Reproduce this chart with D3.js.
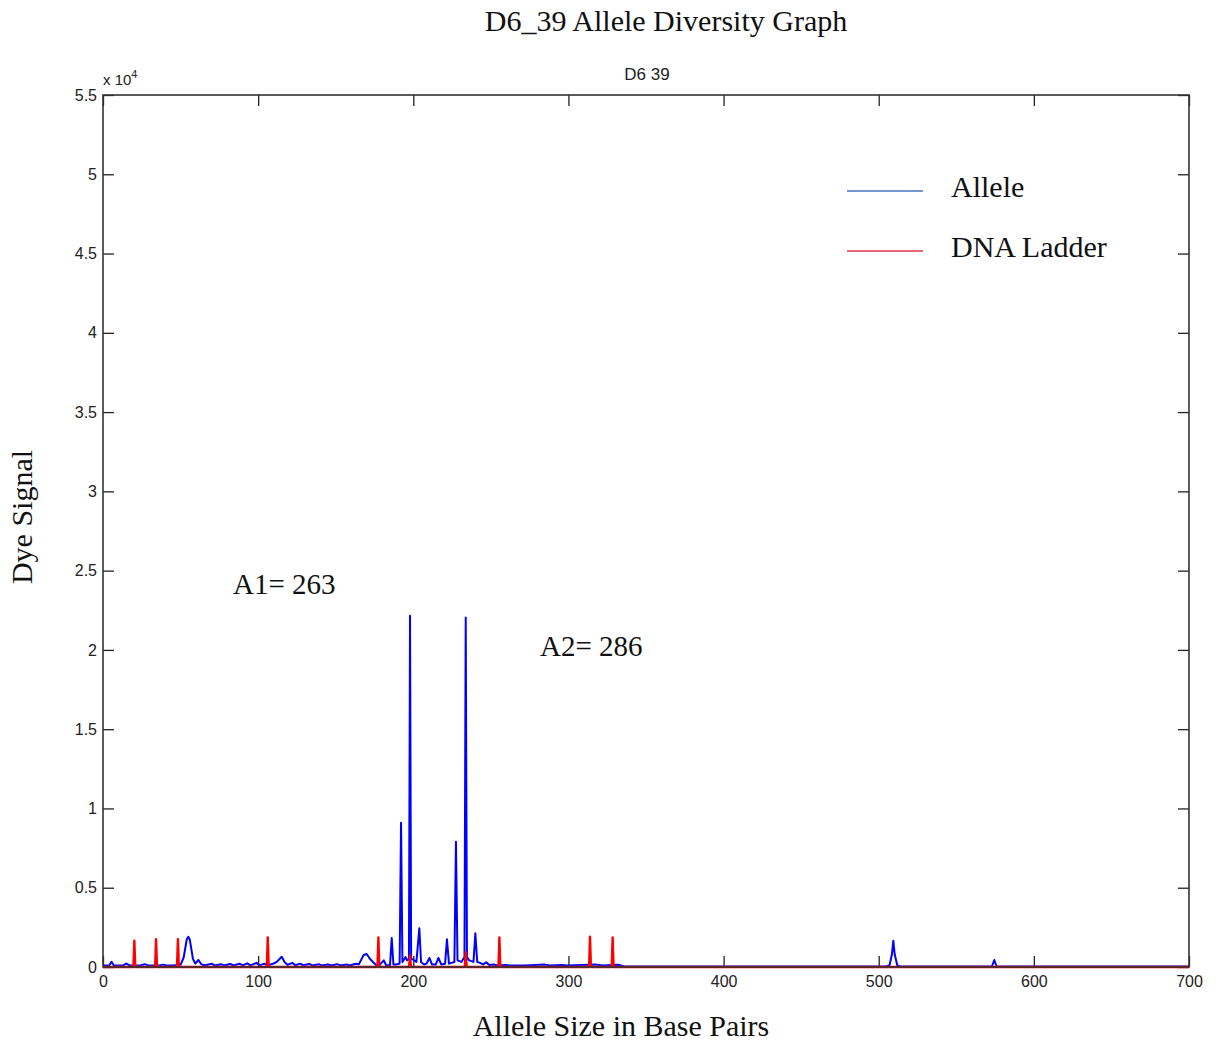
<!DOCTYPE html>
<html lang="en">
<head>
    <meta charset="UTF-8">
    <title>D6_39 Allele Diversity Graph</title>
    <style>
        body { margin: 0; background: #fff; }
        .tick text { font-family: "Liberation Sans", Arial, sans-serif; font-size: 16px; fill: #222; }
        .serif { font-family: "Liberation Serif", "Times New Roman", serif; fill: #111; }
    </style>
</head>
<body>
<svg id="chart"></svg>

<script src="https://cdn.jsdelivr.net/npm/d3@7/dist/d3.min.js"></script>
<script>
    // blue trace (allele) as [base pairs, dye signal]
    var allele = [
        [0, 100], [4, 100], [5.5, 330], [7, 100], [13, 110], [15, 220], [17, 100], [24, 100], [27, 180], [29, 100],
        [36, 100], [39, 150], [41, 100], [45, 100], [50, 140], [52, 600], [54, 1750], [55, 1910], [56, 1700],
        [58, 500], [59.5, 220], [61.5, 440], [63.5, 160], [66, 110], [70, 210], [72, 100], [76, 170], [78, 100],
        [82, 190], [84, 100], [88, 210], [90, 100], [93, 230], [95, 100], [99, 260], [101, 100], [104, 210],
        [106, 100], [110, 220], [112, 320], [115.2, 650], [117, 320], [119, 130], [122, 260], [124, 110],
        [127, 210], [129, 110], [133, 190], [135, 100], [139, 170], [141, 100], [145, 160], [147, 100],
        [151, 180], [153, 100], [157, 160], [159, 100], [163, 210], [165, 180], [168, 760], [170, 820],
        [172, 520], [174, 320], [176, 130], [178, 100], [181, 420], [182.5, 110], [185, 130], [186.1, 1830],
        [187.2, 160], [189, 160], [191.2, 220], [192.1, 9100], [193, 320], [195, 620], [196, 420], [197.2, 520],
        [197.9, 22150], [198.6, 520], [200, 460], [202, 320], [203.9, 2440], [205, 320], [207, 160],
        [208.5, 210], [210.4, 570], [212, 160], [214.5, 160], [216.2, 570], [218, 160], [220.5, 210],
        [221.7, 1750], [223, 210], [226.5, 320], [227.5, 7900], [228.5, 420], [231, 320], [233, 620],
        [233.8, 22050], [234.6, 620], [236, 420], [238.8, 320], [240, 2130], [241.2, 320], [243, 260],
        [245, 160], [247, 300], [249, 120], [252, 160], [254, 100], [260, 130], [262, 100], [272, 100],
        [285, 150], [288, 100], [296, 130], [299, 100], [318, 150], [322, 100], [332, 140], [336, 30],
        [400, 30], [505, 30], [507, 120], [508.5, 800], [509.4, 1660], [510.3, 800], [512, 100], [514, 30],
        [573, 30], [574.5, 440], [576, 30], [700, 30]
    ];

    // red trace (DNA ladder)
    var ladder = [
        [0, 0], [19.6, 0], [20.2, 1660], [20.8, 0], [33.6, 0], [34.2, 1750], [34.8, 0], [47.7, 0], [48.3, 1750],
        [48.9, 0], [105.6, 0], [106.2, 1870], [106.8, 0], [176.9, 0], [177.5, 1870], [178.1, 0], [197.3, 0],
        [197.9, 750], [198.5, 0], [233.2, 0], [233.8, 950], [234.4, 0], [254.9, 0], [255.5, 1870], [256.1, 0],
        [313.3, 0], [313.9, 1910], [314.5, 0], [327.9, 0], [328.5, 1870], [329.1, 0], [700, 0]
    ];

    var xTicks = [0, 100, 200, 300, 400, 500, 600, 700];
    var yTicks = [0, 5000, 10000, 15000, 20000, 25000, 30000, 35000, 40000, 45000, 50000, 55000];
    var yTickLabels = ["0", "0.5", "1", "1.5", "2", "2.5", "3", "3.5", "4", "4.5", "5", "5.5"];

    var legendNames = ["Allele", "DNA Ladder"];
    var legendColors = ["#4a74c0", "#e0344e"];

    var annotations = [
        {text: "A1= 263", bp: 83.8, signal: 23500},
        {text: "A2= 286", bp: 281.7, signal: 19600}
    ];

    var width = 1220, height = 1042;
    var margin = {top: 95, right: 31, bottom: 75, left: 103};
    var w = width - margin.left - margin.right;
    var h = height - margin.top - margin.bottom;

    var svg = d3.select("#chart").attr("width", width).attr("height", height);
    var g = svg.append("g").attr("transform", "translate(" + margin.left + "," + margin.top + ")");

    var x = d3.scaleLinear().domain([0, 700]).range([0, w]);
    var y = d3.scaleLinear().domain([0, 55000]).range([h, 0]);

    var tickLen = 11;

    // axes, ticks inward
    g.append("g").attr("transform", "translate(0," + h + ")")
        .call(d3.axisBottom(x).tickValues(xTicks).tickSizeInner(-tickLen).tickSizeOuter(0).tickPadding(9));
    g.append("g")
        .call(d3.axisTop(x).tickValues(xTicks).tickSizeInner(-tickLen).tickSizeOuter(0).tickFormat(""));
    g.append("g")
        .call(d3.axisLeft(y).tickValues(yTicks).tickSizeInner(-tickLen).tickSizeOuter(0).tickPadding(6)
            .tickFormat(function (d, i) { return yTickLabels[i]; }));
    g.append("g").attr("transform", "translate(" + w + ",0)")
        .call(d3.axisRight(y).tickValues(yTicks).tickSizeInner(-tickLen).tickSizeOuter(0).tickFormat(""));

    g.selectAll(".domain").remove();
    g.selectAll(".tick line").attr("stroke", "#222").attr("stroke-width", 1.3);

    var line = d3.line().x(function (d) { return x(d[0]); }).y(function (d) { return y(d[1]); });

    g.append("path").datum(allele)
        .attr("d", line).attr("fill", "none").attr("stroke", "#0000ff")
        .attr("stroke-width", 2).attr("stroke-linejoin", "round");
    g.append("path").datum(ladder)
        .attr("d", line).attr("fill", "none").attr("stroke", "#ff0000")
        .attr("stroke-width", 2.4).attr("stroke-linejoin", "round");

    // frame
    g.append("rect").attr("width", w).attr("height", h)
        .attr("fill", "none").attr("stroke", "#333").attr("stroke-width", 1.6);

    // exponent and top label
    var expo = svg.append("text").attr("x", margin.left).attr("y", 85)
        .style("font-family", "Liberation Sans, Arial, sans-serif").style("font-size", "15px").attr("fill", "#222");
    expo.append("tspan").text("x 10");
    expo.append("tspan").attr("dy", -7).style("font-size", "11px").text("4");

    svg.append("text").attr("x", 647).attr("y", 80).attr("text-anchor", "middle")
        .style("font-family", "Liberation Sans, Arial, sans-serif").style("font-size", "17px").attr("fill", "#222")
        .text("D6 39");

    svg.append("text").attr("class", "serif").attr("x", 666).attr("y", 31).attr("text-anchor", "middle")
        .style("font-size", "30px").text("D6_39 Allele Diversity Graph");

    svg.append("text").attr("class", "serif").attr("x", 621).attr("y", 1036).attr("text-anchor", "middle")
        .style("font-size", "30px").text("Allele Size in Base Pairs");

    svg.append("text").attr("class", "serif").attr("transform", "translate(32,517) rotate(-90)")
        .attr("text-anchor", "middle").style("font-size", "30px").text("Dye Signal");

    g.selectAll(".annot").data(annotations).enter().append("text")
        .attr("class", "serif annot")
        .attr("x", function (d) { return x(d.bp); })
        .attr("y", function (d) { return y(d.signal); })
        .style("font-size", "29px")
        .text(function (d) { return d.text; });

    // legend
    var legend = svg.append("g").attr("transform", "translate(847,191)");
    var items = legend.selectAll("g").data(legendNames).enter().append("g")
        .attr("transform", function (d, i) { return "translate(0," + i * 60 + ")"; });
    items.append("line").attr("x1", 0).attr("x2", 76).attr("y1", 0).attr("y2", 0)
        .attr("stroke", function (d, i) { return legendColors[i]; }).attr("stroke-width", 1.5);
    items.append("text").attr("class", "serif").attr("x", 104).attr("y", 6)
        .style("font-size", "30px").text(function (d) { return d; });
</script>
</body>
</html>
